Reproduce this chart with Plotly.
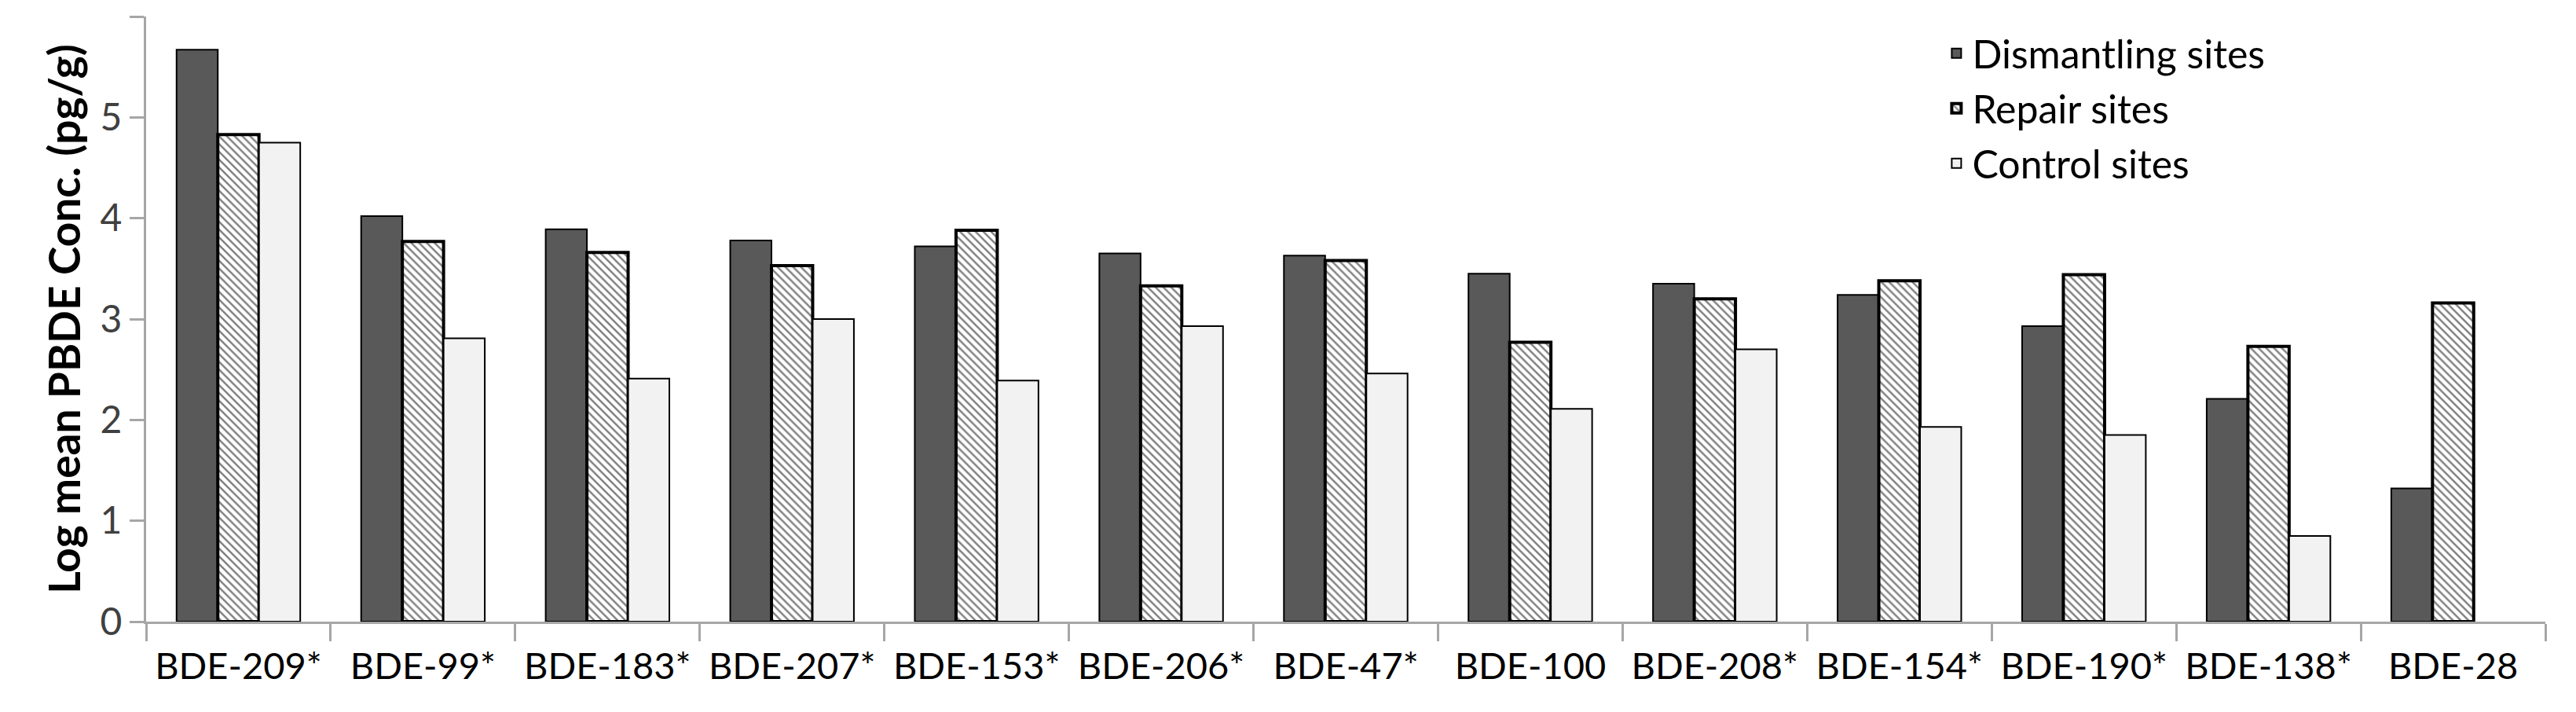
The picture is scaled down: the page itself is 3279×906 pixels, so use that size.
import plotly.graph_objects as go

categories = ["BDE-209*", "BDE-99*", "BDE-183*", "BDE-207*", "BDE-153*", "BDE-206*", "BDE-47*",
              "BDE-100", "BDE-208*", "BDE-154*", "BDE-190*", "BDE-138*", "BDE-28"]
dismantling = [5.67, 4.02, 3.89, 3.78, 3.72, 3.65, 3.63, 3.45, 3.35, 3.24, 2.93, 2.21, 1.32]
repair = [4.83, 3.77, 3.66, 3.53, 3.88, 3.33, 3.58, 2.77, 3.20, 3.38, 3.44, 2.73, 3.16]
control = [4.75, 2.81, 2.41, 3.00, 2.39, 2.93, 2.46, 2.11, 2.70, 1.93, 1.85, 0.85, None]
y_ticks = [0, 1, 2, 3, 4, 5, 6]
y_tick_text = ["0", "1", "2", "3", "4", "5", ""]

FONT = "Lato"

fig = go.Figure()
fig.add_trace(go.Bar(
    x=categories, y=dismantling, name="Dismantling sites", legendgroup="d",
    marker=dict(color="#595959", line=dict(color="#000000", width=2)),
))
fig.add_trace(go.Bar(
    x=categories, y=repair, name="Repair sites", legendgroup="r",
    marker=dict(color="#ffffff", line=dict(color="#000000", width=4),
                pattern=dict(shape="\\", fgcolor="#000000", bgcolor="#ffffff",
                             size=7, solidity=0.35)),
))
fig.add_trace(go.Bar(
    x=categories, y=control, name="Control sites", legendgroup="c",
    marker=dict(color="#f2f2f2", line=dict(color="#000000", width=2)),
))

fig.update_layout(
    width=3279, height=906,
    barmode="group", bargap=0.33, bargroupgap=0,
    plot_bgcolor="#ffffff", paper_bgcolor="#ffffff",
    margin=dict(l=178, r=47, t=13, b=123),
    font=dict(family=FONT, size=48, color="#000000"),
    legend=dict(x=0.748, y=0.99, xanchor="left", yanchor="top",
                font=dict(family=FONT, size=50, color="#000000"),
                bgcolor="rgba(0,0,0,0)", itemwidth=30,
                traceorder="grouped", tracegroupgap=2),
    xaxis=dict(showline=True, linecolor="#a6a6a6", linewidth=3,
               ticks="outside", tickson="boundaries", ticklen=22,
               tickcolor="#a6a6a6", tickwidth=3, ticklabelstandoff=14,
               tickfont=dict(family=FONT, size=47, color="#000000"),
               showgrid=False),
    yaxis=dict(range=[0, 6], tickvals=y_ticks, ticktext=y_tick_text,
               showline=True, linecolor="#a6a6a6", linewidth=3,
               ticks="outside", ticklen=18, tickcolor="#a6a6a6", tickwidth=3,
               tickfont=dict(family=FONT, size=48, color="#404040"),
               showgrid=False, zeroline=False,
               title=dict(text="<b>Log mean PBDE Conc. (pg/g)</b>",
                          font=dict(family=FONT, size=55, color="#000000"),
                          standoff=8)),
)

fig.write_html("out.html")
